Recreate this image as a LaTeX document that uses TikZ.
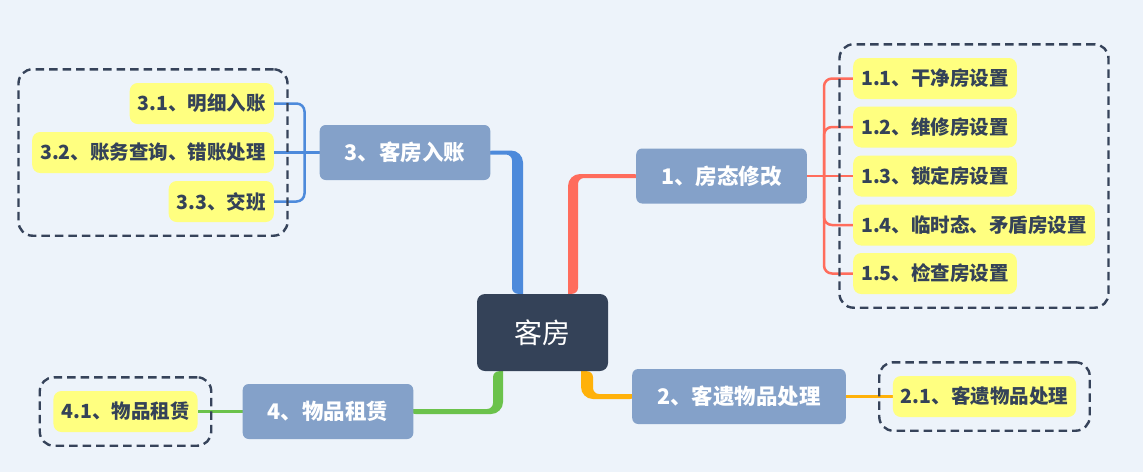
\documentclass[tikz,border=0pt]{standalone}
\usepackage{fontspec}
\setmainfont{Noto Sans CJK SC}
\usetikzlibrary{fit,backgrounds}

\definecolor{bgc}{HTML}{EDF3FA}
\definecolor{hubc}{HTML}{344258}
\definecolor{topicc}{HTML}{84A1C9}
\definecolor{leafc}{HTML}{FFFF80}
\definecolor{inkc}{HTML}{344258}
\definecolor{dashc}{HTML}{36435A}
\definecolor{redc}{HTML}{FF6C5C}
\definecolor{bluec}{HTML}{4D8ADB}
\definecolor{greenc}{HTML}{6BC24B}
\definecolor{orangec}{HTML}{FFB10A}

\tikzset{
	hubnode/.style={fill=hubc, text=white, rounded corners=8pt, minimum width=131pt, minimum height=77pt, font=\fontsize{28}{32}\selectfont},
	topicnode/.style={fill=topicc, text=white, rounded corners=6pt, minimum height=55pt, inner xsep=25pt, font=\fontsize{21.5}{24}\selectfont\bfseries},
	leafnode/.style={fill=leafc, text=inkc, rounded corners=8pt, minimum height=41pt, inner xsep=8pt, font=\fontsize{19.5}{22}\selectfont\bfseries},
	groupbox/.style={draw=dashc, line width=2.4pt, dash pattern=on 8.5pt off 5pt, rounded corners=14pt, inner sep=13.5pt},
	twig/.style={line width=2.5pt, rounded corners=8pt},
}

\begin{document}
\begin{tikzpicture}[x=1pt, y=-1pt]
	\useasboundingbox (0,0) rectangle (1143,472);

	\node[hubnode] (hub) at (542.5,332.5) {客房};
	\node[topicnode] (n1) at (721.5,176) {1、房态修改};
	\node[topicnode] (n2) at (739,396.5) {2、客遗物品处理};
	\node[topicnode] (n3) at (405,152.5) {3、客房入账};
	\node[topicnode] (n4) at (328,411.5) {4、物品租赁};

	\node[leafnode, anchor=west] (l11) at (853,78.5) {1.1、干净房设置};
	\node[leafnode, anchor=west] (l12) at (853,127) {1.2、维修房设置};
	\node[leafnode, anchor=west] (l13) at (853,176) {1.3、锁定房设置};
	\node[leafnode, anchor=west] (l14) at (853,225) {1.4、临时态、矛盾房设置};
	\node[leafnode, anchor=west] (l15) at (853,273.5) {1.5、检查房设置};
	\node[leafnode] (l21) at (984.5,396.5) {2.1、客遗物品处理};
	\node[leafnode, anchor=east] (l31) at (274,103.5) {3.1、明细入账};
	\node[leafnode, anchor=east] (l32) at (274,152.5) {3.2、账务查询、错账处理};
	\node[leafnode, anchor=east] (l33) at (274,201.5) {3.3、交班};
	\node[leafnode] (l41) at (125.5,411.5) {4.1、物品租赁};

	\node[groupbox, fit=(l11)(l14)(l15)] (g1) {};
	\node[groupbox, fit=(l21)] (g2) {};
	\node[groupbox, fit=(l31)(l32)(l33)] (g3) {};
	\node[groupbox, fit=(l41)] (g4) {};

	\coordinate (j1) at ([xshift=17pt]n1.east);
	\coordinate (j3) at ([xshift=-15pt]n3.west);

	\begin{pgfonlayer}{background}
		\fill[bgc] (0,0) rectangle (1143,472);
		\fill[redc] ([xshift=25.5pt]hub.north) [rounded corners=12pt] |- ([xshift=10pt,yshift=2pt]n1.west) [sharp corners] -- ([xshift=10pt,yshift=-2pt]n1.west) [rounded corners=6pt] -| ([xshift=35.5pt]hub.north) [sharp corners] -- cycle;
		\fill[bluec] ([xshift=-19.5pt]hub.north) [rounded corners=12pt] |- ([xshift=-10pt,yshift=2pt]n3.east) [sharp corners] -- ([xshift=-10pt,yshift=-2pt]n3.east) [rounded corners=6pt] -| ([xshift=-30.5pt]hub.north) [sharp corners] -- cycle;
		\fill[greenc] ([xshift=-39.5pt]hub.south) [rounded corners=12pt] |- ([xshift=-10pt,yshift=-2.5pt]n4.east) [sharp corners] -- ([xshift=-10pt,yshift=2.5pt]n4.east) [rounded corners=6pt] -| ([xshift=-49.5pt]hub.south) [sharp corners] -- cycle;
		\fill[orangec] ([xshift=38.5pt]hub.south) [rounded corners=12pt] |- ([xshift=10pt,yshift=-2.5pt]n2.west) [sharp corners] -- ([xshift=10pt,yshift=2.5pt]n2.west) [rounded corners=6pt] -| ([xshift=50.5pt]hub.south) [sharp corners] -- cycle;

		\draw[twig, redc] (n1.east) -- (l13.west);
		\draw[twig, redc] (j1) |- (l11.west);
		\draw[twig, redc] (j1) |- (l12.west);
		\draw[twig, redc] (j1) |- (l14.west);
		\draw[twig, redc] (j1) |- (l15.west);
		\draw[twig, bluec] (n3.west) -- (l32.east);
		\draw[twig, bluec] (j3) |- (l31.east);
		\draw[twig, bluec] (j3) |- (l33.east);
		\draw[twig, orangec] (n2.east) -- (l21.west);
		\draw[twig, greenc] (n4.west) -- (l41.east);
	\end{pgfonlayer}
\end{tikzpicture}
\end{document}
